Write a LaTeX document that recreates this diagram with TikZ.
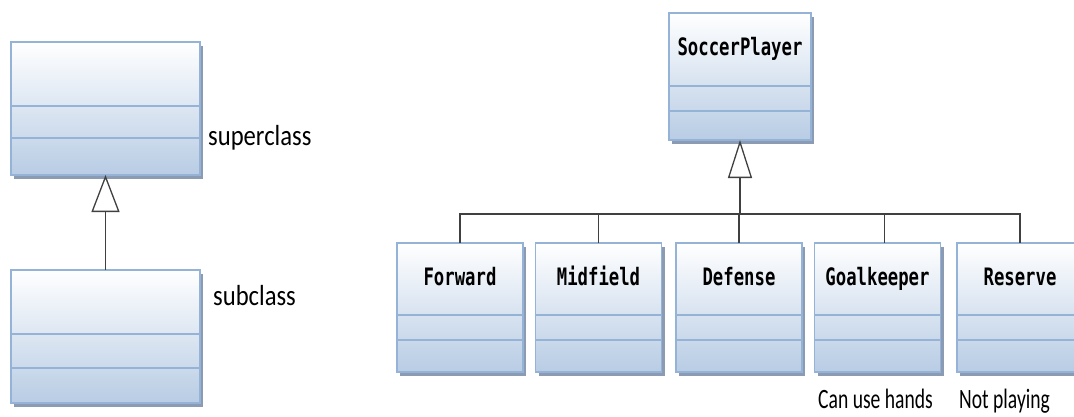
\documentclass[tikz,border=0pt]{standalone}
\usepackage{fontspec}
\setmainfont{Carlito}
\newfontfamily\labfont[FakeStretch=0.85]{Carlito}
\newfontfamily\labfontn[FakeStretch=0.7]{Carlito}
\newfontfamily\clsfont[FakeStretch=0.72]{DejaVu Sans Mono Bold}
\usetikzlibrary{arrows.meta,shadows,calc}
\definecolor{boxline}{RGB}{149,179,215}
\definecolor{boxbot}{RGB}{184,204,228}
\definecolor{shadowc}{RGB}{140,155,180}
\definecolor{connc}{RGB}{64,64,64}
\tikzset{
  cls/.style={rectangle, draw=boxline, line width=1.5pt, top color=white, bottom color=boxbot,
    drop shadow={shadow xshift=3pt, shadow yshift=-4pt, fill=shadowc, opacity=1},
    inner sep=0pt, outer sep=0pt},
  compline/.style={draw=boxline, line width=1.5pt},
  clsname/.style={inner sep=0pt, font=\clsfont\fontsize{24}{24}\selectfont, text=black},
  lab/.style={inner sep=0pt, font=\labfont\fontsize{29}{29}\selectfont, text=black},
  labn/.style={inner sep=0pt, font=\labfontn\fontsize{28}{28}\selectfont, text=black},
  conn/.style={draw=connc, line width=1.3pt},
  inhL/.style={conn, -{Triangle[fill=white, length=37pt, width=28pt]}},
  inhR/.style={conn, -{Triangle[fill=white, length=38pt, width=24pt]}},
}
\newcommand\clscomps[3]{%
  \draw[compline] ($(#1.north west)+(0,#2)$) -- ($(#1.north east)+(0,#2)$);
  \draw[compline] ($(#1.north west)+(0,#3)$) -- ($(#1.north east)+(0,#3)$);}
\begin{document}
\begin{tikzpicture}[x=1pt, y=-1pt]
\useasboundingbox (0,0) rectangle (1074,416);
\clip (0,0) rectangle (1074,416);
% left generic pair
\node[cls, minimum width=189pt, minimum height=133pt] (sup) at (105.5,108.5) {};
\clscomps{sup}{64}{96}
\node[cls, minimum width=189pt, minimum height=133pt] (sub) at (105.5,336.5) {};
\clscomps{sub}{64}{98}
\node[lab, anchor=base west] (lsup) at (208,145) {superclass};
\node[lab, anchor=base west] (lsub) at (213,305) {subclass};
\draw[inhL] (sub.north) -- (sup.south);
% soccer hierarchy
\node[cls, minimum width=142pt, minimum height=127pt] (sp) at (740,76.5) {};
\clscomps{sp}{73}{98}
\node[clsname, anchor=base] (spn) at (740,55) {SoccerPlayer};
\foreach \nm/\cx/\txt in {fw/460/Forward, md/598.5/Midfield, df/739/Defense, gk/877.5/Goalkeeper, rs/1020/Reserve}{
  \node[cls, minimum width=126pt, minimum height=129pt] (\nm) at (\cx,307.5) {};
  \clscomps{\nm}{72}{97}
  \node[clsname, anchor=base] (\nm n) at (\cx,285) {\txt};
}
\coordinate (bus) at (740,214);
\coordinate (gkstem) at ($(gk.north)+(7,0)$);
\draw[conn] (fw.north) -- (fw.north |- bus) -- (rs.north |- bus) -- (rs.north);
\draw[conn] (md.north) -- (md.north |- bus);
\draw[conn] (df.north) -- (df.north |- bus);
\draw[conn] (gkstem) -- (gkstem |- bus);
\draw[inhR] (bus) -- (sp.south);
\node[labn, anchor=base west] (lgk) at (818,408) {Can use hands};
\node[labn, anchor=base west] (lrs) at (959,408) {Not playing};
\end{tikzpicture}
\end{document}
